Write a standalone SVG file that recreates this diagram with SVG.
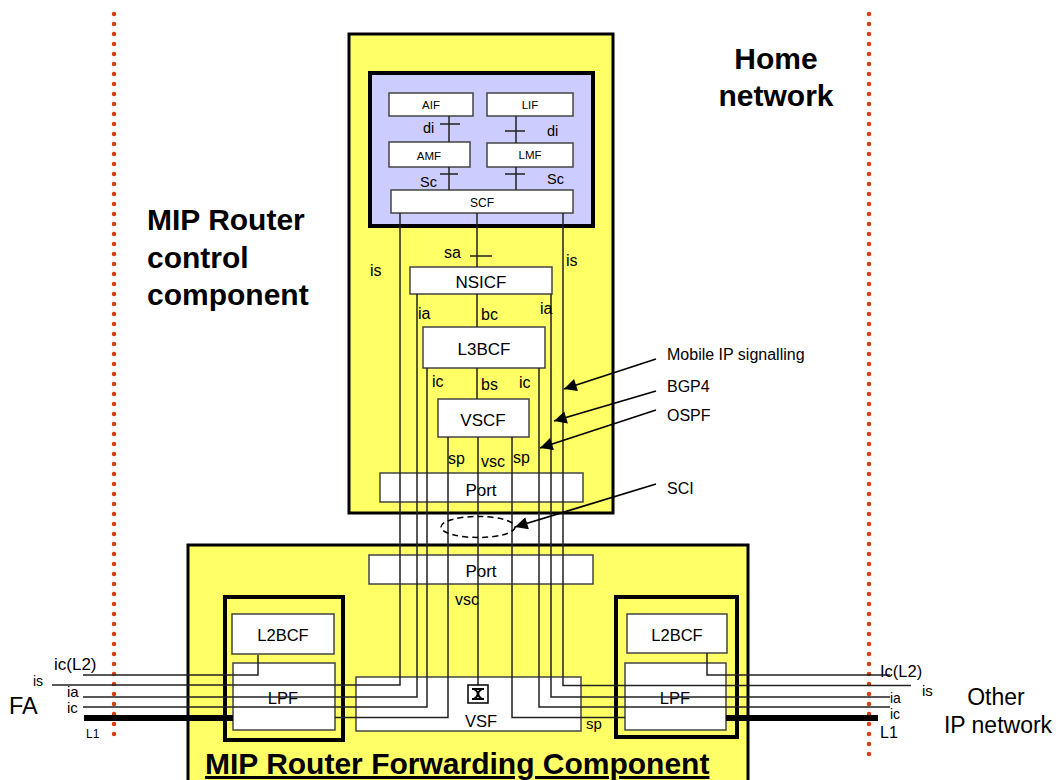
<svg xmlns="http://www.w3.org/2000/svg" width="1060" height="780" viewBox="0 0 1060 780">
<defs>
<style>
text{font-family:"Liberation Sans",Arial,sans-serif;fill:#000}
.big{font-size:30px;font-weight:bold}
.lbl{font-size:16px}
.sm{font-size:12px}
.mid{text-anchor:middle}
.box{fill:#fff;stroke:#444;stroke-width:1.5}
.yel{fill:#ffff66;stroke:#000;stroke-width:3}
.thick{fill:#ffff66;stroke:#000;stroke-width:4}
.ln{fill:none;stroke:#222;stroke-width:1.5}
.dots{fill:none;stroke:#d2410f;stroke-width:4.5;stroke-linecap:round;stroke-dasharray:0 10}
.arr{fill:none;stroke:#000;stroke-width:1.8;marker-end:url(#ah)}
</style>
<marker id="ah" viewBox="0 0 10 10" refX="10" refY="5" markerWidth="8" markerHeight="7" markerUnits="strokeWidth" orient="auto">
<path d="M0,0 L10,5 L0,10 z" fill="#000"/>
</marker>
</defs>
<rect width="1060" height="780" fill="#fff"/>

<g id="borders">
<line class="dots" x1="114" y1="14" x2="114" y2="744"/>
<line class="dots" x1="869" y1="14" x2="869" y2="760"/>
</g>

<g id="control-component">
<rect class="yel" x="349" y="34" width="264" height="479"/>
<text class="big" x="147" y="230">MIP Router</text>
<text class="big" x="147" y="268">control</text>
<text class="big" x="147" y="305">component</text>
<text class="big mid" x="776" y="69">Home</text>
<text class="big mid" x="776" y="106">network</text>
</g>

<g id="forwarding-component">
<rect class="yel" x="188" y="545" width="560" height="245"/>
<text class="big" x="205" y="774" text-decoration="underline">MIP Router Forwarding Component</text>
</g>

<g id="blue-box">
<rect x="370" y="73" width="223" height="153" fill="#ccccff" stroke="#000" stroke-width="4"/>
</g>
<g id="AIF"><rect class="box" x="389" y="93" width="84" height="23"/><text class="mid" x="431" y="109" font-size="11.5">AIF</text></g>
<g id="LIF"><rect class="box" x="487" y="93" width="86" height="23"/><text class="mid" x="530" y="109" font-size="11.5">LIF</text></g>
<g id="AMF"><rect class="box" x="389" y="142" width="81" height="25"/><text class="mid" x="429" y="160" font-size="11.5">AMF</text></g>
<g id="LMF"><rect class="box" x="487" y="143" width="86" height="24"/><text class="mid" x="530" y="159" font-size="11.5">LMF</text></g>
<g id="SCF"><rect class="box" x="391" y="190" width="182" height="23"/><text class="mid" x="482" y="207" font-size="12">SCF</text></g>
<g id="NSICF"><rect class="box" x="410" y="267" width="142" height="27"/><text class="mid" x="481" y="288" font-size="17">NSICF</text></g>
<g id="L3BCF"><rect class="box" x="423" y="327" width="122" height="41"/><text class="mid" x="484" y="355" font-size="17">L3BCF</text></g>
<g id="VSCF"><rect class="box" x="438" y="399" width="91" height="38"/><text class="mid" x="483" y="426" font-size="17">VSCF</text></g>
<g id="Port-top"><rect class="box" x="380" y="473" width="203" height="29"/><text class="mid" x="481" y="496" font-size="17">Port</text></g>
<g id="Port-bottom"><rect class="box" x="369" y="555" width="224" height="29"/><text class="mid" x="481" y="577" font-size="17">Port</text></g>

<g id="left-unit">
<rect class="thick" x="225" y="597" width="118" height="143"/>
<rect class="box" x="232" y="614" width="102" height="40"/>
<text class="mid" x="283" y="641" font-size="16.5">L2BCF</text>
<rect class="box" x="233" y="663" width="102" height="67"/>
<text class="mid" x="283" y="704" font-size="16.5">LPF</text>
</g>
<g id="right-unit">
<rect class="thick" x="616" y="597" width="121" height="140"/>
<rect class="box" x="627" y="614" width="100" height="39"/>
<text class="mid" x="677" y="641" font-size="16.5">L2BCF</text>
<rect class="box" x="625" y="663" width="101" height="67"/>
<text class="mid" x="675" y="704" font-size="16.5">LPF</text>
</g>
<g id="VSF">
<rect class="box" x="356" y="677" width="225" height="54"/>
<text class="mid" x="481" y="727" font-size="16.5">VSF</text>
</g>

<g id="connectors">
<path class="ln" d="M449,116 V142 M440,124 H460 M516,116 V143 M505,131 H525 M449,167 V190 M440,174 H458 M516,167 V190 M505,174 H525"/>
<path class="ln" d="M477,213 V267 M470,256 H492 M477,294 V327 M477,368 V399"/>
<path class="ln" d="M52,685 H400 V213 M563,213 V685.5 H911"/>
<path class="ln" d="M83,697 H417 V294 M551,294 V697 H890"/>
<path class="ln" d="M83,707 H427 V368 M539,368 V707 H890"/>
<path class="ln" d="M335,717.5 H448 V437 M512,437 V717.5 H625"/>
<path class="ln" d="M478,437 V685"/>
<path class="ln" d="M83,675 H258 V655 M707,653 V675 H890"/>
<line x1="84" y1="718" x2="233" y2="718" stroke="#000" stroke-width="6"/>
<line x1="726" y1="718" x2="878" y2="718" stroke="#000" stroke-width="6"/>
<ellipse cx="478" cy="527" rx="37" ry="10.5" fill="none" stroke="#000" stroke-width="1.5" stroke-dasharray="6 4"/>
<path class="arr" d="M656,359 L564,389"/>
<path class="arr" d="M656,391 L554,421"/>
<path class="arr" d="M656,410 L540,448"/>
<path class="arr" d="M656,484 L515,527"/>
</g>

<g id="cross-connect">
<rect x="468" y="685" width="20" height="18" fill="#fff" stroke="#000" stroke-width="1.5"/>
<path d="M472,689 H484 M472,699 H484 M474,689 C479,692 479,696 474,699 M482,689 C477,692 477,696 482,699" fill="none" stroke="#000" stroke-width="2"/>
</g>

<g id="labels">
<text x="423" y="133" font-size="14.5">di</text>
<text x="547" y="136" font-size="14.5">di</text>
<text x="420" y="187" font-size="14.5">Sc</text>
<text x="547" y="184" font-size="14.5">Sc</text>
<text class="lbl" x="444" y="258">sa</text>
<text class="lbl" x="370" y="276">is</text>
<text class="lbl" x="566" y="266">is</text>
<text class="lbl" x="418" y="319">ia</text>
<text class="lbl" x="540" y="314">ia</text>
<text class="lbl" x="481" y="320">bc</text>
<text class="lbl" x="432" y="387">ic</text>
<text class="lbl" x="481" y="390">bs</text>
<text class="lbl" x="519" y="388">ic</text>
<text class="lbl" x="448" y="464">sp</text>
<text class="lbl" x="481" y="467">vsc</text>
<text class="lbl" x="513" y="463">sp</text>
<text class="lbl" x="455" y="605">vsc</text>
<text x="586" y="729" font-size="15">sp</text>
<text class="lbl" x="667" y="360">Mobile IP signalling</text>
<text class="lbl" x="667" y="392">BGP4</text>
<text class="lbl" x="667" y="421">OSPF</text>
<text class="lbl" x="667" y="494">SCI</text>
<text x="54" y="670" font-size="17">ic(L2)</text>
<text x="33" y="686" font-size="14">is</text>
<text x="67" y="697" font-size="15">ia</text>
<text x="67" y="713" font-size="15">ic</text>
<text x="9" y="714" font-size="23.5">FA</text>
<text x="86" y="738" font-size="12">L1</text>
<text x="880" y="677" font-size="16.5">Ic(L2)</text>
<text x="922" y="696" font-size="15">is</text>
<text x="890" y="703" font-size="14">ia</text>
<text x="890" y="719" font-size="14">ic</text>
<text x="880" y="738" font-size="16">L1</text>
<text class="mid" x="996" y="705" font-size="23">Other</text>
<text class="mid" x="998" y="733" font-size="23">IP network</text>
</g>
</svg>
